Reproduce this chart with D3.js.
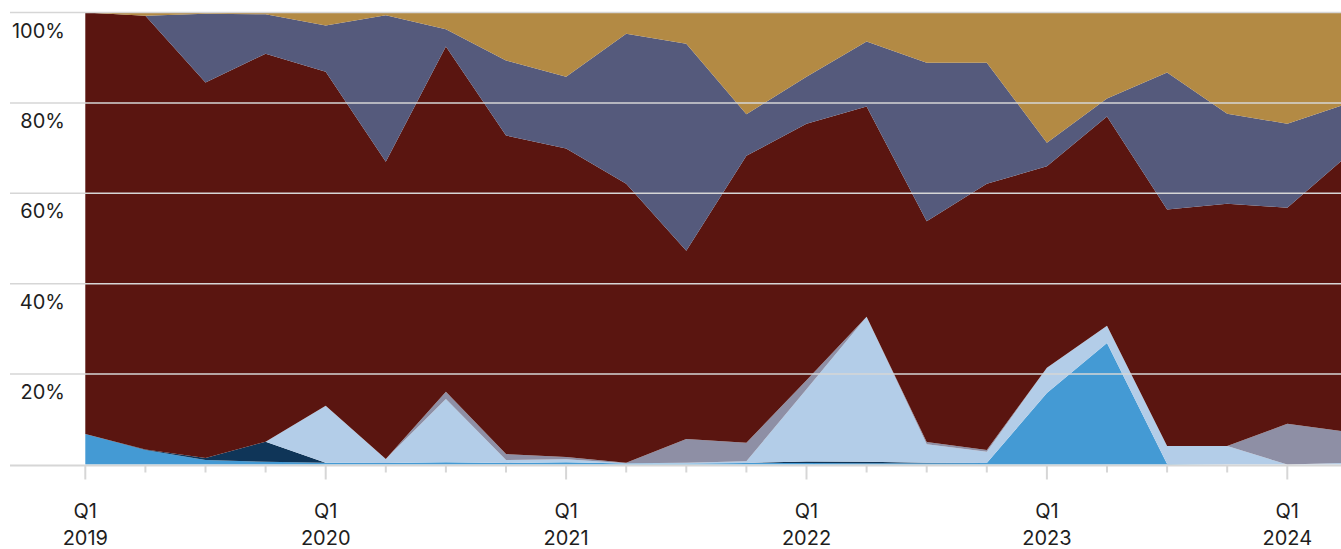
<!DOCTYPE html>
<html>
<head>
<meta charset="utf-8">
<script src="https://cdn.jsdelivr.net/npm/d3@7"></script>
<style>
  html, body { margin: 0; padding: 0; background: #fff; }
  svg { display: block; }
  text { font-family: Inter, "DejaVu Sans", sans-serif; fill: #1e1e1e; }
</style>
</head>
<body>
<svg id="chart" width="1341" height="549"></svg>
<script>
// Quarters Q1 2019 .. Q2 2024
const quarters = ["2019Q1","2019Q2","2019Q3","2019Q4","2020Q1","2020Q2","2020Q3","2020Q4",
  "2021Q1","2021Q2","2021Q3","2021Q4","2022Q1","2022Q2","2022Q3","2022Q4",
  "2023Q1","2023Q2","2023Q3","2023Q4","2024Q1","2024Q2"];

// Series (bottom to top), shares in percent
const blue      = [6.75,3.2,1.0,0.6,0.4,0.35,0.5,0.35,0.5,0.2,0.2,0.35,0.35,0.3,0.3,0.35,15.8,26.9,0.1,0,0,0];
const navy      = [0,0.1,0.45,4.45,0,0,0,0,0,0,0,0,0.3,0.3,0.1,0,0,0,0,0,0,0];
const lightBlue = [0,0,0,0,12.6,0.85,14.0,0.65,0.65,0.1,0.2,0.35,16.0,32.1,4.1,2.45,5.6,3.8,4.0,4.1,0,0.35];
const gray      = [0,0,0,0,0,0,1.6,1.3,0.5,0.1,5.25,4.1,2.0,0,0.5,0.4,0,0,0,0,9.0,6.9];
const red       = [93.25,96.0,83.05,85.85,73.9,65.8,76.4,70.5,68.25,61.7,41.65,63.5,56.7,46.5,48.8,58.9,44.6,46.3,52.3,53.6,47.8,61.1];
const slate     = [0,0,15.2,8.7,10.2,32.4,3.8,16.6,15.9,33.2,45.8,9.2,10.4,14.4,35.1,26.8,5.2,4.0,30.3,19.9,18.6,11.55];
const gold      = [0,0.7,0.3,0.4,2.9,0.6,3.7,10.6,14.2,4.7,6.9,22.5,14.2,6.4,11.1,11.1,28.8,19.0,13.3,22.4,24.6,20.15];

const seriesKeys = ["blue","navy","lightBlue","gray","red","slate","gold"];
const seriesValues = {blue, navy, lightBlue, gray, red, slate, gold};
const seriesColors = {
  blue: "#449ad4", navy: "#0f3558", lightBlue: "#b3cde8", gray: "#8e8fa5",
  red: "#5a1510", slate: "#555a7c", gold: "#b38a44"
};

const yTicks = [0, 0.2, 0.4, 0.6, 0.8, 1.0];
const yTickLabels = ["", "20%", "40%", "60%", "80%", "100%"];

const table = quarters.map((q, i) => {
  const row = {q, i};
  seriesKeys.forEach(k => row[k] = seriesValues[k][i]);
  return row;
});

const svg = d3.select("#chart");
const W = 1341;

const x = d3.scaleLinear().domain([0, quarters.length - 1]).range([85.3, 85.3 + 21 * 60.1]);
const y = d3.scaleLinear().domain([0, 1]).range([464.5, 12.5]);

const stack = d3.stack().keys(seriesKeys).offset(d3.stackOffsetExpand);
const layers = stack(table);

const area = d3.area()
  .x(d => x(d.data.i))
  .y0(d => y(d[0]))
  .y1(d => y(d[1]));

svg.append("defs").append("clipPath").attr("id", "clip")
  .append("rect").attr("x", 0).attr("y", 0).attr("width", W).attr("height", 549);

svg.append("g").attr("clip-path", "url(#clip)")
  .selectAll("path").data(layers).join("path")
  .attr("d", area)
  .attr("fill", d => seriesColors[d.key]);

// Gridlines
const grid = svg.append("g");
grid.selectAll("line").data(yTicks.filter(t => t > 0)).join("line")
  .attr("x1", 10).attr("x2", W)
  .attr("y1", d => y(d)).attr("y2", d => y(d))
  .attr("stroke", "#d6d6d6").attr("stroke-width", 1.5);

// Y labels
svg.append("g").selectAll("text").data(yTicks.filter(t => t > 0)).join("text")
  .attr("x", 65).attr("y", d => y(d) + 25)
  .attr("text-anchor", "end")
  .attr("font-size", 20)
  .text(d => yTickLabels[yTicks.indexOf(d)]);

// X axis baseline
svg.append("line")
  .attr("x1", 10).attr("x2", W)
  .attr("y1", y(0) + 1).attr("y2", y(0) + 1)
  .attr("stroke", "#d6d6d6").attr("stroke-width", 2);

// Ticks
svg.append("g").selectAll("line").data(table).join("line")
  .attr("x1", d => x(d.i)).attr("x2", d => x(d.i))
  .attr("y1", y(0) + 1)
  .attr("y2", d => y(0) + (d.q.endsWith("Q1") ? 15 : 8))
  .attr("stroke", "#d6d6d6").attr("stroke-width", 2);

// X labels
const majors = table.filter(d => d.q.endsWith("Q1"));
const xl = svg.append("g").selectAll("g").data(majors).join("g")
  .attr("transform", d => `translate(${x(d.i)},0)`);
xl.append("text").attr("y", 518).attr("text-anchor", "middle").attr("font-size", 20)
  .text(d => "Q1");
xl.append("text").attr("y", 545).attr("text-anchor", "middle").attr("font-size", 20)
  .text(d => d.q.slice(0, 4));
</script>
</body>
</html>
